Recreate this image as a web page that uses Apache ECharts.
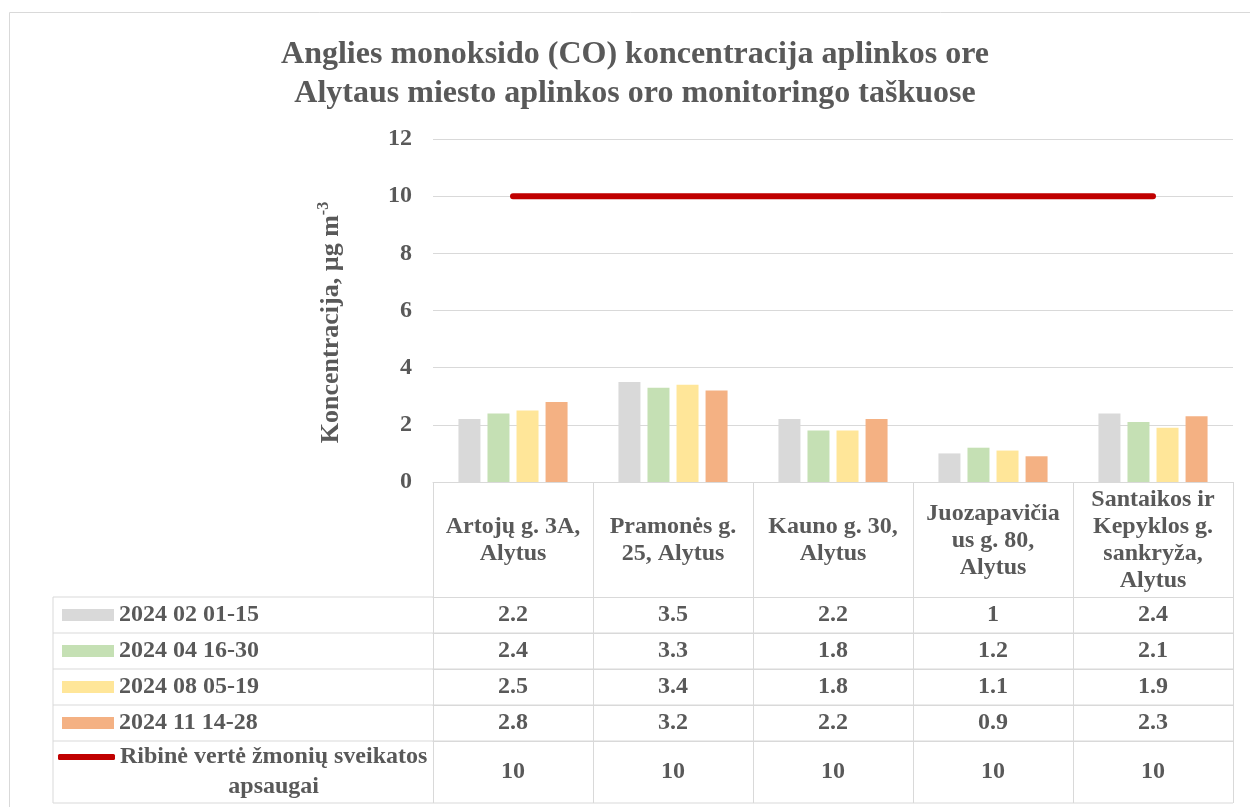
<!DOCTYPE html>
<html>
<head>
<meta charset="utf-8">
<script src="https://cdn.jsdelivr.net/npm/echarts@6/dist/echarts.min.js"></script>
<style>
html, body { margin: 0; padding: 0; background: #fff; }
#main { width: 1250px; height: 807px; }
</style>
</head>
<body>
<div id="main"></div>
<script>
// data
var places = ['Artojų g. 3A,\nAlytus', 'Pramonės g.\n25, Alytus', 'Kauno g. 30,\nAlytus', 'Juozapavičia\nus g. 80,\nAlytus', 'Santaikos ir\nKepyklos g.\nsankryža,\nAlytus'];
var periods = ['2024 02 01-15', '2024 04 16-30', '2024 08 05-19', '2024 11 14-28'];
var feb = [2.2, 3.5, 2.2, 1, 2.4];
var apr = [2.4, 3.3, 1.8, 1.2, 2.1];
var aug = [2.5, 3.4, 1.8, 1.1, 1.9];
var nov = [2.8, 3.2, 2.2, 0.9, 2.3];
var limitName = 'Ribinė vertė žmonių sveikatos apsaugai';
var limit = [10, 10, 10, 10, 10];
var yMin = 0, yMax = 12, yStep = 2;

// layout
var font = "'Liberation Serif', 'Times New Roman', serif";
var txt = '#595959';
var border = '#d9d9d9';
var fs = 24;
var gridLeft = 433, gridTop = 139, gridW = 800, gridH = 343;
var gridBottom = gridTop + gridH;
var headerH = 115;
var rowH = [36, 36, 36, 36, 62];
var tableLeft = 53;

var rows = [feb, apr, aug, nov, limit];
var colors = ['#d9d9d9', '#c5e0b4', '#ffe699', '#f4b183'];

// first x axis = header row of the data table, the rest = one row per series
var xAxes = [{
    type: 'category',
    data: places,
    position: 'bottom',
    axisLine: { onZero: false, lineStyle: { color: border } },
    axisTick: { show: true, interval: 0, length: headerH, lineStyle: { color: border } },
    axisLabel: {
        interval: 0, margin: headerH / 2 + 1, verticalAlign: 'middle',
        color: txt, fontFamily: font, fontWeight: 'bold', fontSize: fs, lineHeight: 27
    }
}];
var offs = headerH;
rows.forEach(function (vals, i) {
    xAxes.push({
        type: 'category',
        data: places,
        position: 'bottom',
        offset: offs,
        axisLine: { onZero: false, lineStyle: { color: border } },
        axisTick: { show: true, interval: 0, length: rowH[i], lineStyle: { color: border } },
        axisLabel: {
            interval: 0, margin: rowH[i] / 2, verticalAlign: 'middle',
            color: txt, fontFamily: font, fontWeight: 'bold', fontSize: fs,
            formatter: function (v, idx) { return String(vals[idx]); }
        }
    });
    offs += rowH[i];
});

// table lines left of the plot
var graphics = [{
    type: 'rect',
    shape: { x: 9.5, y: 12.5, width: 1300, height: 900 },
    style: { fill: 'none', stroke: border, lineWidth: 1 }
}];
var yy = gridBottom + headerH;
graphics.push({ type: 'line', shape: { x1: tableLeft, y1: yy, x2: gridLeft, y2: yy }, style: { stroke: border } });
rowH.forEach(function (h) {
    yy += h;
    graphics.push({ type: 'line', shape: { x1: tableLeft, y1: yy, x2: gridLeft + gridW, y2: yy }, style: { stroke: border } });
});
graphics.push({ type: 'line', shape: { x1: tableLeft, y1: gridBottom + headerH, x2: tableLeft, y2: yy }, style: { stroke: border } });

var barSeries = [feb, apr, aug, nov].map(function (d, i) {
    return {
        name: periods[i],
        type: 'bar',
        data: d,
        barWidth: 22,
        barGap: '32%',
        itemStyle: { color: colors[i] }
    };
});

var option = {
    animation: false,
    textStyle: { fontFamily: font },
    title: {
        text: 'Anglies monoksido (CO) koncentracija aplinkos ore\nAlytaus miesto aplinkos oro monitoringo taškuose',
        left: 630,
        textAlign: 'center',
        top: 30,
        textStyle: { color: txt, fontFamily: font, fontWeight: 'bold', fontSize: 32, lineHeight: 39 }
    },
    legend: [{
        data: periods,
        orient: 'vertical',
        left: 62,
        top: 600,
        padding: 0,
        itemWidth: 52,
        itemHeight: 12,
        itemGap: 6,
        icon: 'rect',
        selectedMode: false,
        textStyle: { color: txt, fontFamily: font, fontWeight: 'bold', fontSize: fs, lineHeight: 30 }
    }, {
        data: [limitName],
        orient: 'vertical',
        left: 58,
        top: 712,
        padding: 0,
        itemWidth: 57,
        itemHeight: 6,
        icon: 'roundRect',
        selectedMode: false,
        formatter: function (name) {
            var cut = name.lastIndexOf(' ');
            return '{e| }\n{a|' + name.slice(0, cut) + '}\n{b|' + name.slice(cut + 1) + '}';
        },
        textStyle: {
            color: txt, fontFamily: font, fontWeight: 'bold', fontSize: fs, lineHeight: 30,
            rich: {
                e: { fontSize: fs, lineHeight: 30 },
                a: { fontSize: fs, lineHeight: 30, fontWeight: 'bold', color: txt, fontFamily: font },
                b: { fontSize: fs, lineHeight: 30, fontWeight: 'bold', color: txt, fontFamily: font, align: 'center' }
            }
        }
    }],
    grid: { left: gridLeft, top: gridTop, width: gridW, height: gridH, outerBoundsMode: 'none' },
    xAxis: xAxes,
    yAxis: {
        type: 'value',
        min: yMin,
        max: yMax,
        interval: yStep,
        name: '{a|Koncentracija, µg m}{s|-3}',
        nameLocation: 'middle',
        nameGap: 87,
        nameRotate: 90,
        nameTextStyle: {
            padding: [0, 24, 0, 0],
            rich: {
                a: { fontSize: 26, fontWeight: 'bold', color: txt, fontFamily: font, lineHeight: 30 },
                s: { fontSize: 16, fontWeight: 'bold', color: txt, fontFamily: font, verticalAlign: 'top', lineHeight: 30 }
            }
        },
        axisLine: { show: false },
        axisTick: { show: false },
        axisLabel: { color: txt, fontFamily: font, fontWeight: 'bold', fontSize: fs, margin: 21 },
        splitLine: { lineStyle: { color: border, width: 1 } }
    },
    graphic: graphics,
    series: barSeries.concat([{
        name: limitName,
        type: 'line',
        data: limit,
        symbol: 'none',
        z: 5,
        itemStyle: { color: '#c00000' },
        lineStyle: { color: '#c00000', width: 6, cap: 'round' }
    }])
};

var chart = echarts.init(document.getElementById('main'));
chart.setOption(option);
</script>
</body>
</html>
